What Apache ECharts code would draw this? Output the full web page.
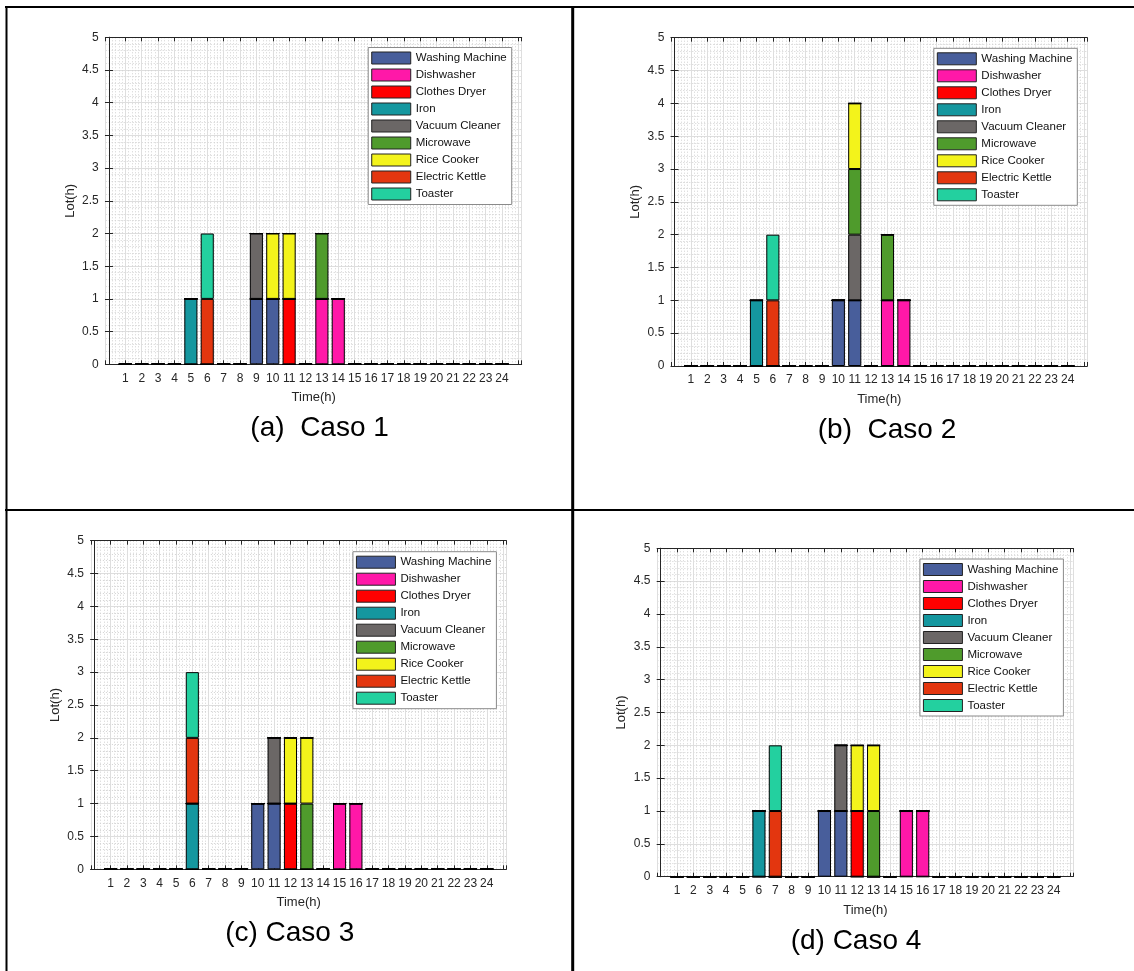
<!DOCTYPE html>
<html>
<head>
<meta charset="utf-8">
<script src="https://cdn.jsdelivr.net/npm/echarts@6/dist/echarts.min.js"></script>
<style>
html,body{margin:0;padding:0;background:#fff;}
#chart{width:1134px;height:971px;}
</style>
</head>
<body>
<div id="chart"></div>
<script>
// ---------- data ----------
const hours = [1,2,3,4,5,6,7,8,9,10,11,12,13,14,15,16,17,18,19,20,21,22,23,24];
const appliances = ['Washing Machine','Dishwasher','Clothes Dryer','Iron','Vacuum Cleaner','Microwave','Rice Cooker','Electric Kettle','Toaster'];
const yTicks = [0,0.5,1,1.5,2,2.5,3,3.5,4,4.5,5];
const captions = ['(a)  Caso 1','(b)  Caso 2','(c) Caso 3','(d) Caso 4'];

//                      1 2 3 4 5 6 7 8 9 10 11 12 13 14 15 16 17 18 19 20 21 22 23 24
const c1Washing     = [0,0,0,0,0,0,0,0,1,1,0,0,0,0,0,0,0,0,0,0,0,0,0,0];
const c1Dishwasher  = [0,0,0,0,0,0,0,0,0,0,0,0,1,1,0,0,0,0,0,0,0,0,0,0];
const c1Dryer       = [0,0,0,0,0,0,0,0,0,0,1,0,0,0,0,0,0,0,0,0,0,0,0,0];
const c1Iron        = [0,0,0,0,1,0,0,0,0,0,0,0,0,0,0,0,0,0,0,0,0,0,0,0];
const c1Vacuum      = [0,0,0,0,0,0,0,0,1,0,0,0,0,0,0,0,0,0,0,0,0,0,0,0];
const c1Microwave   = [0,0,0,0,0,0,0,0,0,0,0,0,1,0,0,0,0,0,0,0,0,0,0,0];
const c1Rice        = [0,0,0,0,0,0,0,0,0,1,1,0,0,0,0,0,0,0,0,0,0,0,0,0];
const c1Kettle      = [0,0,0,0,0,1,0,0,0,0,0,0,0,0,0,0,0,0,0,0,0,0,0,0];
const c1Toaster     = [0,0,0,0,0,1,0,0,0,0,0,0,0,0,0,0,0,0,0,0,0,0,0,0];

const c2Washing     = [0,0,0,0,0,0,0,0,0,1,1,0,0,0,0,0,0,0,0,0,0,0,0,0];
const c2Dishwasher  = [0,0,0,0,0,0,0,0,0,0,0,0,1,1,0,0,0,0,0,0,0,0,0,0];
const c2Dryer       = [0,0,0,0,0,0,0,0,0,0,0,0,0,0,0,0,0,0,0,0,0,0,0,0];
const c2Iron        = [0,0,0,0,1,0,0,0,0,0,0,0,0,0,0,0,0,0,0,0,0,0,0,0];
const c2Vacuum      = [0,0,0,0,0,0,0,0,0,0,1,0,0,0,0,0,0,0,0,0,0,0,0,0];
const c2Microwave   = [0,0,0,0,0,0,0,0,0,0,1,0,1,0,0,0,0,0,0,0,0,0,0,0];
const c2Rice        = [0,0,0,0,0,0,0,0,0,0,1,0,0,0,0,0,0,0,0,0,0,0,0,0];
const c2Kettle      = [0,0,0,0,0,1,0,0,0,0,0,0,0,0,0,0,0,0,0,0,0,0,0,0];
const c2Toaster     = [0,0,0,0,0,1,0,0,0,0,0,0,0,0,0,0,0,0,0,0,0,0,0,0];

const c3Washing     = [0,0,0,0,0,0,0,0,0,1,1,0,0,0,0,0,0,0,0,0,0,0,0,0];
const c3Dishwasher  = [0,0,0,0,0,0,0,0,0,0,0,0,0,0,1,1,0,0,0,0,0,0,0,0];
const c3Dryer       = [0,0,0,0,0,0,0,0,0,0,0,1,0,0,0,0,0,0,0,0,0,0,0,0];
const c3Iron        = [0,0,0,0,0,1,0,0,0,0,0,0,0,0,0,0,0,0,0,0,0,0,0,0];
const c3Vacuum      = [0,0,0,0,0,0,0,0,0,0,1,0,0,0,0,0,0,0,0,0,0,0,0,0];
const c3Microwave   = [0,0,0,0,0,0,0,0,0,0,0,0,1,0,0,0,0,0,0,0,0,0,0,0];
const c3Rice        = [0,0,0,0,0,0,0,0,0,0,0,1,1,0,0,0,0,0,0,0,0,0,0,0];
const c3Kettle      = [0,0,0,0,0,1,0,0,0,0,0,0,0,0,0,0,0,0,0,0,0,0,0,0];
const c3Toaster     = [0,0,0,0,0,1,0,0,0,0,0,0,0,0,0,0,0,0,0,0,0,0,0,0];

const c4Washing     = [0,0,0,0,0,0,0,0,0,1,1,0,0,0,0,0,0,0,0,0,0,0,0,0];
const c4Dishwasher  = [0,0,0,0,0,0,0,0,0,0,0,0,0,0,1,1,0,0,0,0,0,0,0,0];
const c4Dryer       = [0,0,0,0,0,0,0,0,0,0,0,1,0,0,0,0,0,0,0,0,0,0,0,0];
const c4Iron        = [0,0,0,0,0,1,0,0,0,0,0,0,0,0,0,0,0,0,0,0,0,0,0,0];
const c4Vacuum      = [0,0,0,0,0,0,0,0,0,0,1,0,0,0,0,0,0,0,0,0,0,0,0,0];
const c4Microwave   = [0,0,0,0,0,0,0,0,0,0,0,0,1,0,0,0,0,0,0,0,0,0,0,0];
const c4Rice        = [0,0,0,0,0,0,0,0,0,0,0,1,1,0,0,0,0,0,0,0,0,0,0,0];
const c4Kettle      = [0,0,0,0,0,0,1,0,0,0,0,0,0,0,0,0,0,0,0,0,0,0,0,0];
const c4Toaster     = [0,0,0,0,0,0,1,0,0,0,0,0,0,0,0,0,0,0,0,0,0,0,0,0];

const cases = [
  [c1Washing,c1Dishwasher,c1Dryer,c1Iron,c1Vacuum,c1Microwave,c1Rice,c1Kettle,c1Toaster],
  [c2Washing,c2Dishwasher,c2Dryer,c2Iron,c2Vacuum,c2Microwave,c2Rice,c2Kettle,c2Toaster],
  [c3Washing,c3Dishwasher,c3Dryer,c3Iron,c3Vacuum,c3Microwave,c3Rice,c3Kettle,c3Toaster],
  [c4Washing,c4Dishwasher,c4Dryer,c4Iron,c4Vacuum,c4Microwave,c4Rice,c4Kettle,c4Toaster]
];

// ---------- style / layout ----------
const colors = ['#485e9b','#ff18a8','#ff0000','#15979f','#6b6766','#4f9b2c','#f3f31b','#e3360f','#23d09f'];
const FONT = '"Liberation Sans", Arial, sans-serif';
const AX = '#262626';
const X_MIN = -0.2, X_MAX = 25.2;
const panels = [
  {left:105.7, top:37.3, width:416, height:327, legendRight:622.3, legendTop:47.5, cap:[319.6,428.3]},
  {left:671.3, top:37.7, width:416, height:328.3, legendRight:56.7, legendTop:48.3, cap:[887,430]},
  {left:90.9, top:540.7, width:415.5, height:328.6, legendRight:637.6, legendTop:551.7, cap:[289.7,933]},
  {left:657.4, top:548.3, width:416, height:328.4, legendRight:70.6, legendTop:559, cap:[856,941.7]}
];

const grid = [], xAxis = [], yAxis = [], legend = [], series = [], graphic = [];

panels.forEach((p, k) => {
  const gFrame = 2*k, gBars = 2*k + 1;
  // frame grid (axes box, ticks, grid lines) spanning the whole x range
  grid.push({left:p.left, top:p.top, width:p.width, height:p.height, backgroundColor:'#fff', show:true, borderWidth:0, z:0});
  // bar grid: category band covering hours 0.5 .. 24.5 of the frame range
  const unit = p.width / (X_MAX - X_MIN);
  grid.push({left:p.left + (0.5 - X_MIN)*unit, top:p.top, width:hours.length*unit, height:p.height, show:false});

  const xCommon = {
    type:'value', gridIndex:gFrame, min:X_MIN, max:X_MAX, minInterval:1, maxInterval:1, splitNumber:25,
    axisLine:{show:true, onZero:false, lineStyle:{color:AX, width:1}},
    axisTick:{show:true, inside:true, length:4, lineStyle:{color:AX}}
  };
  xAxis.push(Object.assign({}, xCommon, {
    position:'bottom',
    name:'Time(h)', nameLocation:'middle', nameGap:27,
    nameTextStyle:{color:AX, fontSize:13, fontFamily:FONT},
    axisLabel:{show:true, margin:8, color:AX, fontSize:12, fontFamily:FONT,
      formatter: v => hours.indexOf(v) >= 0 ? String(v) : ''},
    splitLine:{show:true, lineStyle:{color:'#dedede', width:1}},
    minorTick:{show:false, splitNumber:5},
    minorSplitLine:{show:true, lineStyle:{color:'#d2d2d2', width:1, type:[1,2]}}
  }));
  xAxis.push(Object.assign({}, xCommon, {
    position:'top', axisLabel:{show:false}, splitLine:{show:false}
  }));
  xAxis.push({
    type:'category', gridIndex:gBars, data:hours, boundaryGap:true, show:false
  });

  const yCommon = {
    type:'value', gridIndex:gFrame, min:yTicks[0], max:yTicks[yTicks.length-1], interval:0.5,
    axisLine:{show:true, lineStyle:{color:AX, width:1}},
    axisTick:{show:true, inside:true, length:4, lineStyle:{color:AX}}
  };
  yAxis.push(Object.assign({}, yCommon, {
    position:'left',
    name:'Lot(h)', nameLocation:'middle', nameGap:29,
    nameTextStyle:{color:AX, fontSize:13, fontFamily:FONT},
    axisLabel:{show:true, margin:7, color:AX, fontSize:12, fontFamily:FONT},
    splitLine:{show:true, lineStyle:{color:'#dedede', width:1}},
    minorTick:{show:false, splitNumber:5},
    minorSplitLine:{show:true, lineStyle:{color:'#d2d2d2', width:1, type:[1,2]}}
  }));
  yAxis.push(Object.assign({}, yCommon, {
    position:'right', axisLabel:{show:false}, splitLine:{show:false}
  }));
  yAxis.push({
    type:'value', gridIndex:gBars, min:yTicks[0], max:yTicks[yTicks.length-1], show:false, splitLine:{show:false}
  });

  legend.push({
    orient:'vertical', right:p.legendRight, top:p.legendTop,
    data:appliances, icon:'rect', itemWidth:39, itemHeight:12, itemGap:4,
    padding:[4,5,4,3], backgroundColor:'#fff', borderColor:'#8a8a8a', borderWidth:1, borderRadius:0,
    textStyle:{color:'#111', fontSize:11.5, fontFamily:FONT},
    itemStyle:{borderColor:'#222', borderWidth:1},
    selectedMode:false, z:10
  });
  cases[k].forEach((arr, j) => {
    series.push({
      type:'bar', name:appliances[j], xAxisIndex:3*k + 2, yAxisIndex:3*k + 2, stack:'case'+k,
      barWidth:'80%',
      data: arr,
      itemStyle:{color:colors[j], borderColor:'#000', borderWidth:1},
      emphasis:{disabled:true}, silent:true, z:3
    });
  });
  graphic.push({type:'text', x:p.cap[0], y:p.cap[1], silent:true,
    style:{text:captions[k], fill:'#000', font:'28px ' + FONT, align:'center', verticalAlign:'middle'}});
});

// panel separator lines
graphic.push({type:'line', silent:true, shape:{x1:5, y1:7, x2:1134, y2:7}, style:{stroke:'#000', lineWidth:2}});
graphic.push({type:'line', silent:true, shape:{x1:6.5, y1:6, x2:6.5, y2:971}, style:{stroke:'#000', lineWidth:2}});
graphic.push({type:'line', silent:true, shape:{x1:572.7, y1:6, x2:572.7, y2:971}, style:{stroke:'#000', lineWidth:3}});
graphic.push({type:'line', silent:true, shape:{x1:5, y1:510, x2:1134, y2:510}, style:{stroke:'#000', lineWidth:2}});

const chart = echarts.init(document.getElementById('chart'), null, {renderer:'canvas'});
chart.setOption({
  backgroundColor:'#fff',
  animation:false,
  grid, xAxis, yAxis, legend, series, graphic
});
</script>
</body>
</html>
